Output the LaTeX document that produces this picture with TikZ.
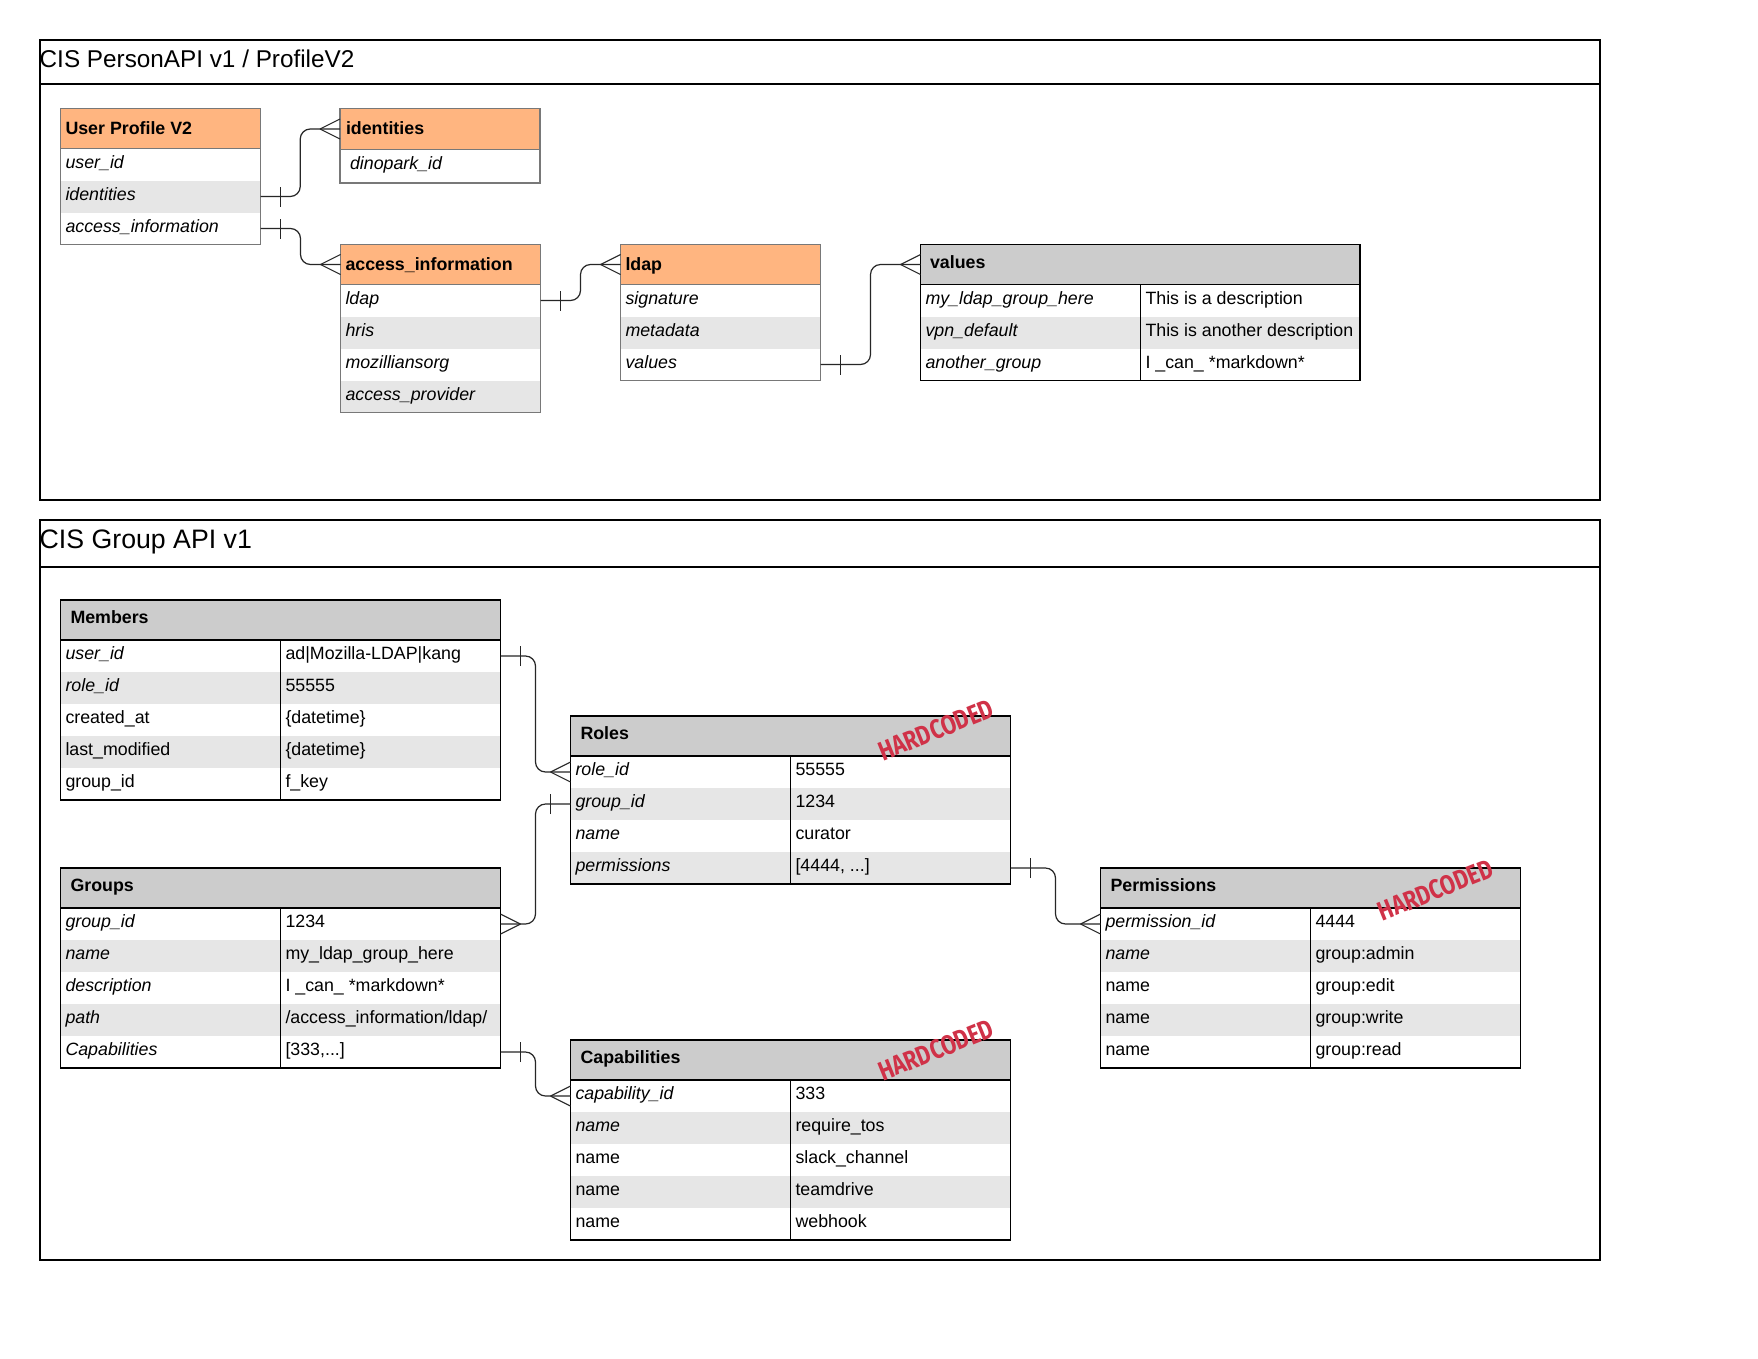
\documentclass[tikz,border=0pt]{standalone}
\usepackage{graphicx}
\usepackage{fontspec}
\setmainfont{Liberation Sans}
\newfontfamily\stampfont{Fira Sans}
\usetikzlibrary{calc}

\definecolor{hdrorange}{RGB}{255,181,128}
\definecolor{hdrgray}{RGB}{204,204,204}
\definecolor{stripe}{RGB}{230,230,230}
\definecolor{softline}{RGB}{120,120,120}
\definecolor{stampred}{RGB}{208,50,72}

\newcommand{\bodyfont}{\fontsize{17.8}{20}\selectfont}
\newcommand{\ohtext}[1]{\raisebox{-2pt}{\bfseries #1}}

\tikzset{
  cellbox/.style={anchor=north west, inner sep=0pt, outer sep=0pt, draw=none},
  celltext/.style={anchor=west, inner sep=0pt, outer sep=0pt, font=\bodyfont,
    text height=11.5pt, text depth=4.1pt},
  frameline/.style={draw=black, line width=1.2pt},
  softborder/.style={draw=softline, line width=1.2pt},
  hardborder/.style={draw=black, line width=1.2pt},
  conn/.style={draw=black!85, line width=1.2pt, rounded corners=10pt},
  ermark/.style={draw=black!85, line width=1.1pt},
  stamp/.style={inner sep=0pt, text=stampred, font=\stampfont\bfseries\fontsize{27}{30}\selectfont, rotate=22},
  paneltitle/.style={anchor=base west, inner sep=0pt}
}

% one table cell: #1 name, #2 fill, #3 x, #4 y, #5 width, #6 height, #7 text indent, #8 text
\newcommand{\tcell}[8]{%
  \node[cellbox, fill=#2, minimum width=#5pt, minimum height=#6pt] (#1) at (#3,#4) {};
  \node[celltext] (#1-t) at ([xshift=#7pt]#1.west) {#8};
}

% elbow connector: one-side tick at the start, crow's foot at the end
\newcommand{\erlink}[4]{%
  \draw[conn] let \p1=(#1), \p2=(#2) in
    (\p1) -- ({(\x1+\x2)/2},\y1) -- ({(\x1+\x2)/2},\y2) -- (\p2);
  \draw[ermark] ([xshift=#3*20pt, yshift=-10pt]#1) -- ([xshift=#3*20pt, yshift=10pt]#1);
  \draw[ermark] ([xshift=#4*20pt]#2) -- ([yshift=10pt]#2)
                ([xshift=#4*20pt]#2) -- ([yshift=-10pt]#2);
}

\begin{document}
\begin{tikzpicture}[x=1pt, y=-1pt]
\useasboundingbox (0,0) rectangle (1758,1358);
\fill[white] (0,0) rectangle (1758,1358);

% ---------- panel 1 ----------
\draw[frameline] (40,40) rectangle (1600,500);
\draw[frameline] (40,84) -- (1600,84);
\node[paneltitle, font=\fontsize{24.3}{28}\selectfont] (title1) at (39.5,67.3) {CIS PersonAPI v1 / ProfileV2};

% User Profile V2
\tcell{up-h}{hdrorange}{60.5}{108.5}{200}{40}{5}{\ohtext{User Profile V2}}
\tcell{up-r1}{white}{60.5}{148.5}{200}{32}{5}{\itshape user\_id}
\tcell{up-r2}{stripe}{60.5}{180.5}{200}{32}{5}{\itshape identities}
\tcell{up-r3}{white}{60.5}{212.5}{200}{32}{5}{\itshape access\_information}
\draw[softborder] (up-h.north west) rectangle (up-r3.south east);
\draw[softborder] (up-h.south west) -- (up-h.south east);

% identities
\tcell{id-h}{hdrorange}{340}{108.5}{200}{41}{6}{\ohtext{identities}}
\tcell{id-r1}{white}{340}{149.5}{200}{33.5}{10}{\itshape dinopark\_id}
\draw[softborder] (id-h.north west) rectangle (id-r1.south east);
\draw[softborder] (id-h.south west) -- (id-h.south east);

% access_information
\tcell{ai-h}{hdrorange}{340.5}{244.5}{200}{40}{5}{\ohtext{access\_information}}
\tcell{ai-r1}{white}{340.5}{284.5}{200}{32}{5}{\itshape ldap}
\tcell{ai-r2}{stripe}{340.5}{316.5}{200}{32}{5}{\itshape hris}
\tcell{ai-r3}{white}{340.5}{348.5}{200}{32}{5}{\itshape mozilliansorg}
\tcell{ai-r4}{stripe}{340.5}{380.5}{200}{32}{5}{\itshape access\_provider}
\draw[softborder] (ai-h.north west) rectangle (ai-r4.south east);
\draw[softborder] (ai-h.south west) -- (ai-h.south east);

% ldap
\tcell{ld-h}{hdrorange}{620.5}{244.5}{200}{40}{5}{\ohtext{ldap}}
\tcell{ld-r1}{white}{620.5}{284.5}{200}{32}{5}{\itshape signature}
\tcell{ld-r2}{stripe}{620.5}{316.5}{200}{32}{5}{\itshape metadata}
\tcell{ld-r3}{white}{620.5}{348.5}{200}{32}{5}{\itshape values}
\draw[softborder] (ld-h.north west) rectangle (ld-r3.south east);
\draw[softborder] (ld-h.south west) -- (ld-h.south east);

% values
\tcell{v-h}{hdrgray}{920.5}{244.5}{439.5}{40}{9.5}{\bfseries values}
\tcell{v-r1a}{white}{920.5}{284.5}{220}{32}{5}{\itshape my\_ldap\_group\_here}
\tcell{v-r1b}{white}{1140.5}{284.5}{219.5}{32}{5}{This is a description}
\tcell{v-r2a}{stripe}{920.5}{316.5}{220}{32}{5}{\itshape vpn\_default}
\tcell{v-r2b}{stripe}{1140.5}{316.5}{219.5}{32}{5}{This is another description}
\tcell{v-r3a}{white}{920.5}{348.5}{220}{32}{5}{\itshape another\_group}
\tcell{v-r3b}{white}{1140.5}{348.5}{219.5}{32}{5}{I \_can\_ *markdown*}
\draw[hardborder] (v-h.north west) rectangle (v-r3b.south east);
\draw[hardborder] (v-h.south west) -- (v-h.south east);
\draw[hardborder] (v-r1a.north east) -- (v-r3a.south east);

% ---------- panel 2 ----------
\draw[frameline] (40,520) rectangle (1600,1260);
\draw[frameline] (40,567) -- (1600,567);
\node[paneltitle, font=\fontsize{26.7}{30}\selectfont] (title2) at (39.5,548.4) {CIS Group API v1};

% Members
\tcell{m-h}{hdrgray}{60.5}{600}{440}{40}{10}{\bfseries Members}
\tcell{m-r1a}{white}{60.5}{640}{220}{32}{5}{\itshape user\_id}
\tcell{m-r1b}{white}{280.5}{640}{220}{32}{5}{ad|Mozilla-LDAP|kang}
\tcell{m-r2a}{stripe}{60.5}{672}{220}{32}{5}{\itshape role\_id}
\tcell{m-r2b}{stripe}{280.5}{672}{220}{32}{5}{55555}
\tcell{m-r3a}{white}{60.5}{704}{220}{32}{5}{created\_at}
\tcell{m-r3b}{white}{280.5}{704}{220}{32}{5}{\{datetime\}}
\tcell{m-r4a}{stripe}{60.5}{736}{220}{32}{5}{last\_modified}
\tcell{m-r4b}{stripe}{280.5}{736}{220}{32}{5}{\{datetime\}}
\tcell{m-r5a}{white}{60.5}{768}{220}{32}{5}{group\_id}
\tcell{m-r5b}{white}{280.5}{768}{220}{32}{5}{f\_key}
\draw[hardborder] (m-h.north west) rectangle (m-r5b.south east);
\draw[hardborder] (m-h.south west) -- (m-h.south east);
\draw[hardborder] (m-r1a.north east) -- (m-r5a.south east);

% Roles
\tcell{r-h}{hdrgray}{570.5}{716}{440}{40}{10}{\bfseries Roles}
\tcell{r-r1a}{white}{570.5}{756}{220}{32}{5}{\itshape role\_id}
\tcell{r-r1b}{white}{790.5}{756}{220}{32}{5}{55555}
\tcell{r-r2a}{stripe}{570.5}{788}{220}{32}{5}{\itshape group\_id}
\tcell{r-r2b}{stripe}{790.5}{788}{220}{32}{5}{1234}
\tcell{r-r3a}{white}{570.5}{820}{220}{32}{5}{\itshape name}
\tcell{r-r3b}{white}{790.5}{820}{220}{32}{5}{curator}
\tcell{r-r4a}{stripe}{570.5}{852}{220}{32}{5}{\itshape permissions}
\tcell{r-r4b}{stripe}{790.5}{852}{220}{32}{5}{[4444, ...]}
\draw[hardborder] (r-h.north west) rectangle (r-r4b.south east);
\draw[hardborder] (r-h.south west) -- (r-h.south east);
\draw[hardborder] (r-r1a.north east) -- (r-r4a.south east);

% Permissions
\tcell{p-h}{hdrgray}{1100.5}{868}{420}{40}{10}{\bfseries Permissions}
\tcell{p-r1a}{white}{1100.5}{908}{210}{32}{5}{\itshape permission\_id}
\tcell{p-r1b}{white}{1310.5}{908}{210}{32}{5}{4444}
\tcell{p-r2a}{stripe}{1100.5}{940}{210}{32}{5}{\itshape name}
\tcell{p-r2b}{stripe}{1310.5}{940}{210}{32}{5}{group:admin}
\tcell{p-r3a}{white}{1100.5}{972}{210}{32}{5}{name}
\tcell{p-r3b}{white}{1310.5}{972}{210}{32}{5}{group:edit}
\tcell{p-r4a}{stripe}{1100.5}{1004}{210}{32}{5}{name}
\tcell{p-r4b}{stripe}{1310.5}{1004}{210}{32}{5}{group:write}
\tcell{p-r5a}{white}{1100.5}{1036}{210}{32}{5}{name}
\tcell{p-r5b}{white}{1310.5}{1036}{210}{32}{5}{group:read}
\draw[hardborder] (p-h.north west) rectangle (p-r5b.south east);
\draw[hardborder] (p-h.south west) -- (p-h.south east);
\draw[hardborder] (p-r1a.north east) -- (p-r5a.south east);

% Groups
\tcell{g-h}{hdrgray}{60.5}{868}{440}{40}{10}{\bfseries Groups}
\tcell{g-r1a}{white}{60.5}{908}{220}{32}{5}{\itshape group\_id}
\tcell{g-r1b}{white}{280.5}{908}{220}{32}{5}{1234}
\tcell{g-r2a}{stripe}{60.5}{940}{220}{32}{5}{\itshape name}
\tcell{g-r2b}{stripe}{280.5}{940}{220}{32}{5}{my\_ldap\_group\_here}
\tcell{g-r3a}{white}{60.5}{972}{220}{32}{5}{\itshape description}
\tcell{g-r3b}{white}{280.5}{972}{220}{32}{5}{I \_can\_ *markdown*}
\tcell{g-r4a}{stripe}{60.5}{1004}{220}{32}{5}{\itshape path}
\tcell{g-r4b}{stripe}{280.5}{1004}{220}{32}{5}{/access\_information/ldap/}
\tcell{g-r5a}{white}{60.5}{1036}{220}{32}{5}{\itshape Capabilities}
\tcell{g-r5b}{white}{280.5}{1036}{220}{32}{5}{[333,...]}
\draw[hardborder] (g-h.north west) rectangle (g-r5b.south east);
\draw[hardborder] (g-h.south west) -- (g-h.south east);
\draw[hardborder] (g-r1a.north east) -- (g-r5a.south east);

% Capabilities
\tcell{c-h}{hdrgray}{570.5}{1040}{440}{40}{10}{\bfseries Capabilities}
\tcell{c-r1a}{white}{570.5}{1080}{220}{32}{5}{\itshape capability\_id}
\tcell{c-r1b}{white}{790.5}{1080}{220}{32}{5}{333}
\tcell{c-r2a}{stripe}{570.5}{1112}{220}{32}{5}{\itshape name}
\tcell{c-r2b}{stripe}{790.5}{1112}{220}{32}{5}{require\_tos}
\tcell{c-r3a}{white}{570.5}{1144}{220}{32}{5}{name}
\tcell{c-r3b}{white}{790.5}{1144}{220}{32}{5}{slack\_channel}
\tcell{c-r4a}{stripe}{570.5}{1176}{220}{32}{5}{name}
\tcell{c-r4b}{stripe}{790.5}{1176}{220}{32}{5}{teamdrive}
\tcell{c-r5a}{white}{570.5}{1208}{220}{32}{5}{name}
\tcell{c-r5b}{white}{790.5}{1208}{220}{32}{5}{webhook}
\draw[hardborder] (c-h.north west) rectangle (c-r5b.south east);
\draw[hardborder] (c-h.south west) -- (c-h.south east);
\draw[hardborder] (c-r1a.north east) -- (c-r5a.south east);

% ---------- relationships ----------
\erlink{up-r2.east}{id-h.west}{1}{-1}
\erlink{up-r3.east}{ai-h.west}{1}{-1}
\erlink{ai-r1.east}{ld-h.west}{1}{-1}
\erlink{ld-r3.east}{v-h.west}{1}{-1}
\erlink{m-r1b.east}{r-r1a.west}{1}{-1}
\erlink{r-r2a.west}{g-r1b.east}{-1}{1}
\erlink{r-r4b.east}{p-r1a.west}{1}{-1}
\erlink{g-r5b.east}{c-r1a.west}{1}{-1}

% ---------- stamps ----------
\node[stamp] (stamp-roles) at (936,730) {\scalebox{0.8}[1]{HARDCODED}};
\node[stamp] (stamp-perms) at (1435.5,890) {\scalebox{0.8}[1]{HARDCODED}};
\node[stamp] (stamp-caps) at (936,1050) {\scalebox{0.8}[1]{HARDCODED}};
\end{tikzpicture}
\end{document}
